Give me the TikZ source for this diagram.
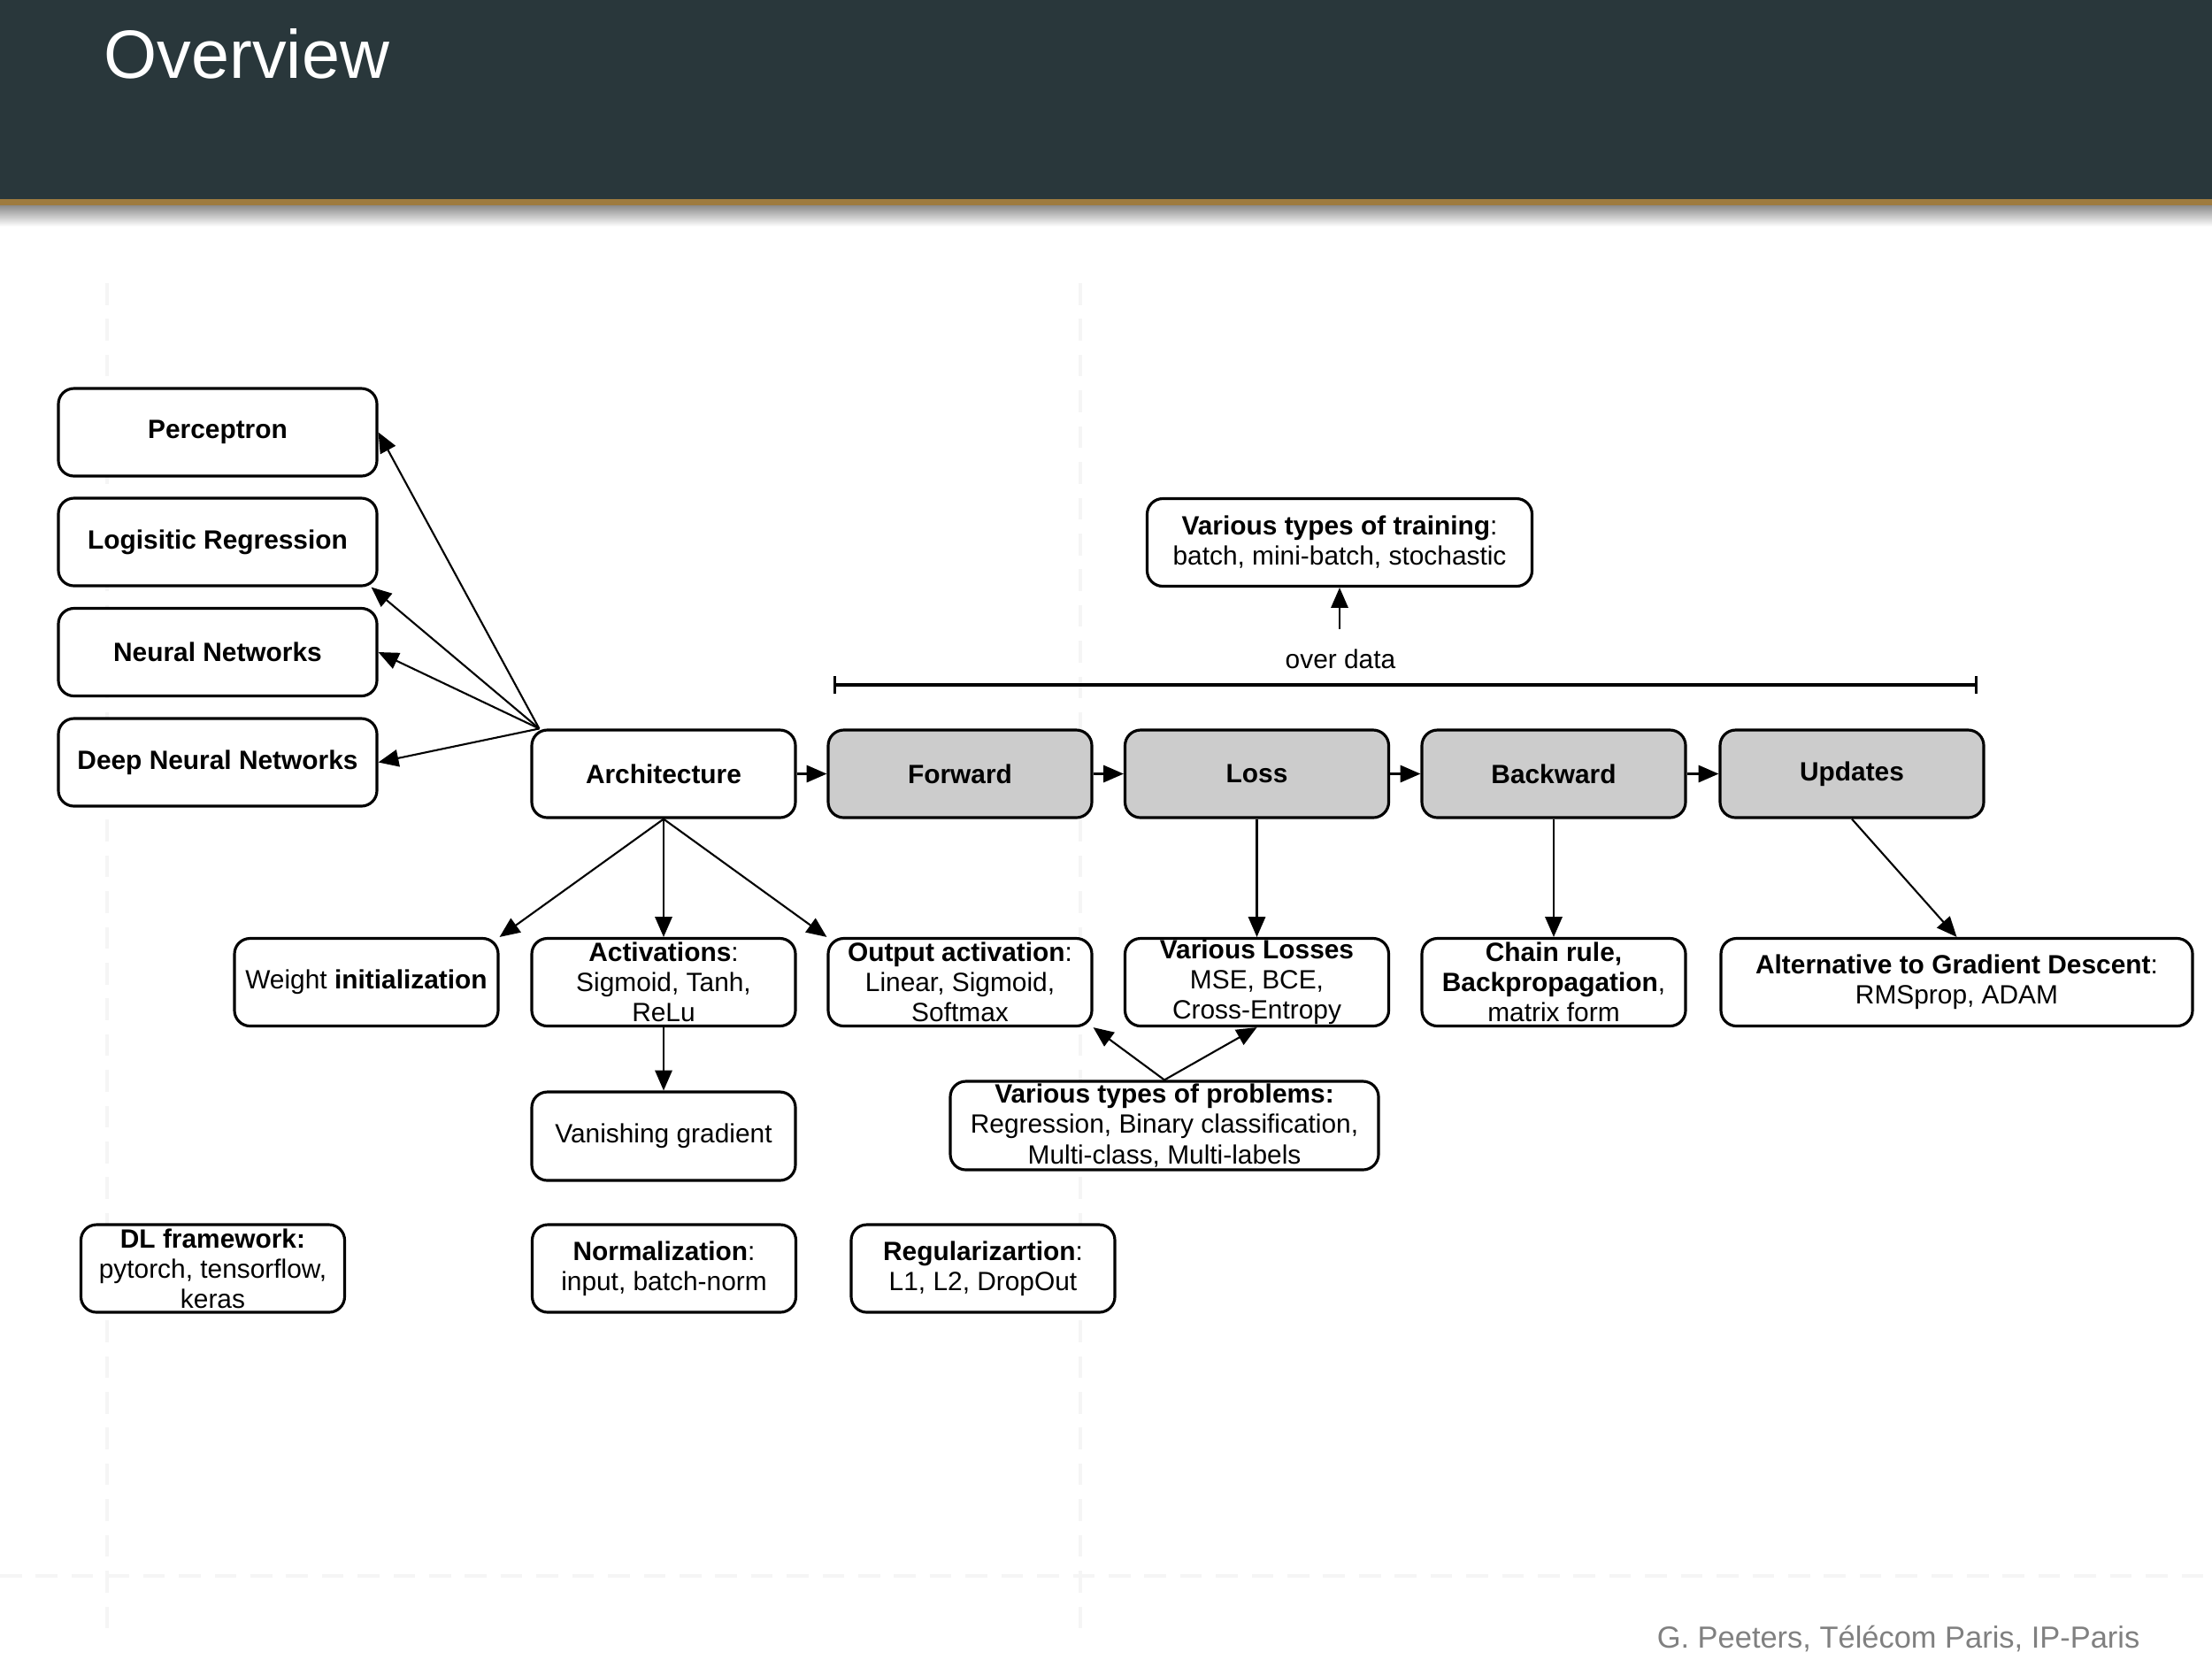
\documentclass[tikz,border=0pt]{standalone}
\usepackage{fontspec}
\setmainfont{Liberation Sans}
\usetikzlibrary{arrows.meta}
\definecolor{headbg}{HTML}{29373B}
\definecolor{headgold}{HTML}{9E7B3F}
\definecolor{stepgray}{HTML}{CCCCCC}
\begin{document}
\begin{tikzpicture}[line join=round, >={Triangle[length=6.5pt,width=5.5pt]},
		box/.style={draw, line width=0.9pt, rounded corners=5pt, fill=white, inner sep=0pt, align=center,
			minimum width=2.98cm, minimum height=0.99cm, font=\fontsize{8.5}{9.7}\selectfont},
		stepbox/.style={box, fill=stepgray, font=\fontsize{8.5}{9.7}\selectfont\bfseries},
		link/.style={->, line width=0.6pt},
		guide/.style={black!4, line width=1.2pt, dash pattern=on 7pt off 4.5pt}]
		\useasboundingbox (0,0) rectangle (25,-18.75);
		% header
		\fill[headbg] (0,0) rectangle (25,-2.25);
		\fill[headgold] (0,-2.25) rectangle (25,-2.32);
		\shade[top color=black!45, bottom color=white] (0,-2.32) rectangle (25,-2.56);
		\node[anchor=base west, inner sep=0pt, white, font=\fontsize{22}{26}\selectfont] (title) at (1.17,-0.88) {Overview};
		% faint guides
		\draw[guide] (1.21,-3.2)--(1.21,-18.5) (12.21,-3.2)--(12.21,-18.5);
		\draw[guide] (0,-17.81)--(25,-17.81);
		% models
		\node[box, minimum width=3.6cm, font=\fontsize{8.5}{9.7}\selectfont\bfseries] (perc) at (2.46,-4.885) {Perceptron};
		\node[box, minimum width=3.6cm, font=\fontsize{8.5}{9.7}\selectfont\bfseries] (logi) at (2.46,-6.125) {Logisitic Regression};
		\node[box, minimum width=3.6cm, font=\fontsize{8.5}{9.7}\selectfont\bfseries] (neur) at (2.46,-7.37) {Neural Networks};
		\node[box, minimum width=3.6cm, font=\fontsize{8.5}{9.7}\selectfont\bfseries] (deep) at (2.46,-8.615) {Deep Neural Networks};
		% main row
		\node[box, font=\fontsize{8.5}{9.7}\selectfont\bfseries] (arch) at (7.50,-8.745) {Architecture};
		\node[stepbox] (fwd) at (10.85,-8.745) {Forward};
		\node[stepbox] (loss) at (14.205,-8.745) {Loss};
		\node[stepbox] (back) at (17.56,-8.745) {Backward};
		\node[stepbox] (upd) at (20.93,-8.745) {Updates};
		% training
		\node[box, minimum width=4.35cm] (train) at (15.14,-6.13) {\textbf{Various types of training}:\\batch, mini-batch, stochastic};
		\node[font=\fontsize{8.5}{9.7}\selectfont] (over) at (15.15,-7.45) {over data};
		\coordinate (overtop) at (15.14,-7.11);
		\coordinate (spanL) at (9.42,-7.74);
		\coordinate (spanR) at (22.35,-7.74);
		\draw[{Bar[width=5.5pt]}-{Bar[width=5.5pt]}, line width=0.9pt] (spanL)--(spanR);
		% second row
		\node[box] (winit) at (4.14,-11.10) {Weight \textbf{initialization}};
		\node[box] (act) at (7.50,-11.10) {\textbf{Activations}:\\Sigmoid, Tanh,\\ReLu};
		\node[box] (outact) at (10.85,-11.10) {\textbf{Output activation}:\\Linear, Sigmoid,\\Softmax};
		\node[box] (losses) at (14.205,-11.10) {\textbf{Various Losses}\\MSE, BCE,\\Cross-Entropy};
		\node[box] (chain) at (17.56,-11.10) {\textbf{Chain rule,}\\\textbf{Backpropagation},\\matrix form};
		\node[box, minimum width=5.33cm] (alt) at (22.115,-11.10) {\textbf{Alternative to Gradient Descent}:\\RMSprop, ADAM};
		\node[box, minimum height=1.0cm] (vanish) at (7.50,-12.84) {Vanishing gradient};
		\node[box, minimum width=4.84cm, minimum height=1.0cm] (probs) at (13.16,-12.72) {\textbf{Various types of problems:}\\Regression, Binary classification,\\Multi-class, Multi-labels};
		% third row
		\node[box] (dlf) at (2.405,-14.335) {\textbf{DL framework:}\\pytorch, tensorflow,\\keras};
		\node[box] (norm) at (7.505,-14.335) {\textbf{Normalization}:\\input, batch-norm};
		\node[box] (reg) at (11.11,-14.335) {\textbf{Regularizartion}:\\L1, L2, DropOut};
		% connectors
		\coordinate (archnw) at ([xshift=1mm]arch.north west);
		\draw[link] (archnw)--(perc.east);
		\draw[link] (archnw)--([xshift=-0.8mm]logi.south east);
		\draw[link] (archnw)--(neur.east);
		\draw[link] (archnw)--(deep.east);
		\draw[link] (arch)--(fwd);
		\draw[link] (fwd)--(loss);
		\draw[link] (loss)--(back);
		\draw[link] (back)--(upd);
		\draw[link] (overtop)--(train);
		\draw[link] (arch.south)--(winit.north east);
		\draw[link] (arch.south)--(act.north);
		\draw[link] (arch.south)--(outact.north west);
		\draw[link] (act.south)--(vanish.north);
		\draw[link] (loss.south)--(losses.north);
		\draw[link] (back.south)--(chain.north);
		\draw[link] (upd.south)--(alt.north);
		\draw[link] (probs.north)--(outact.south east);
		\draw[link] (probs.north)--(losses.south);
		% footer
		\node[anchor=base east, inner sep=0pt, black!50, font=\fontsize{9.8}{12}\selectfont] (foot) at (24.19,-18.62) {G. Peeters, Télécom Paris, IP-Paris};
\end{tikzpicture}
\end{document}
